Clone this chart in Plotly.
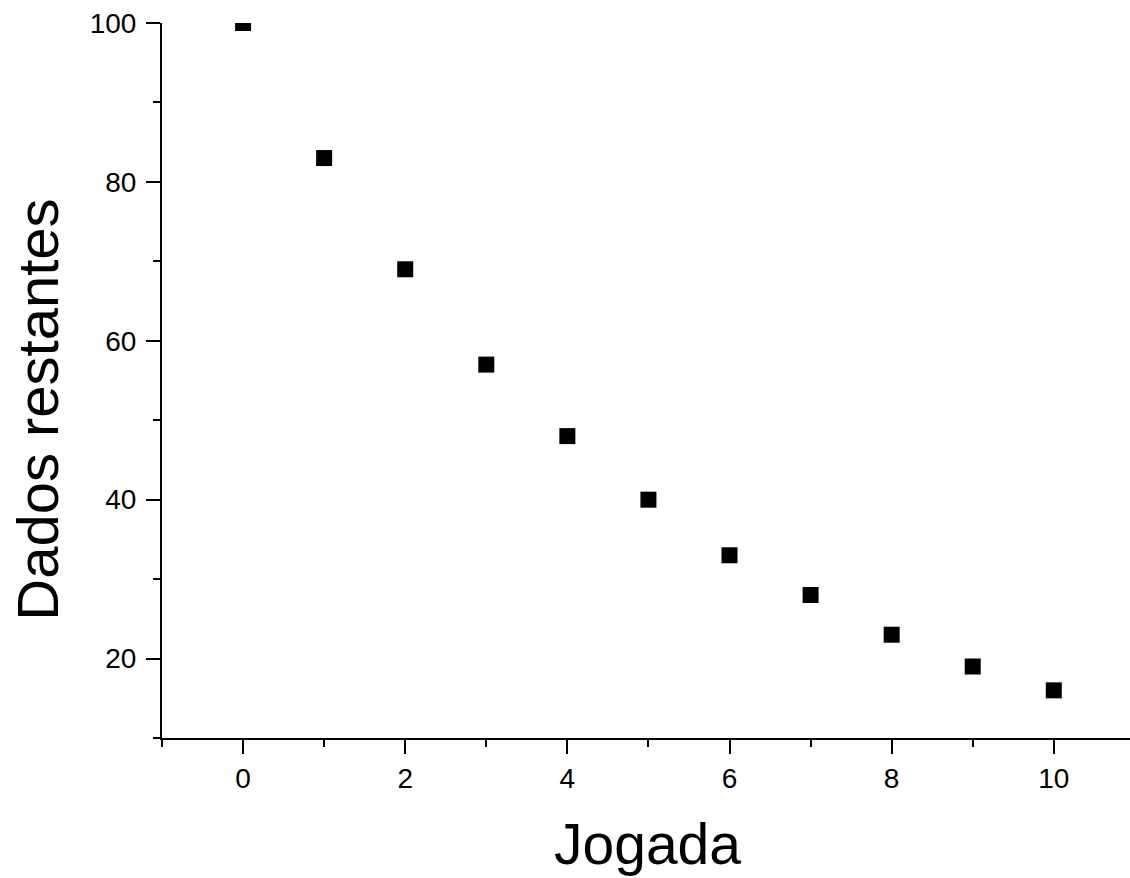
import plotly.graph_objects as go

jogada = [0, 1, 2, 3, 4, 5, 6, 7, 8, 9, 10]
dados_restantes = [100, 83, 69, 57, 48, 40, 33, 28, 23, 19, 16]
x_title = "Jogada"
y_title = "Dados restantes"

W, H = 1130, 878
L, T = 162, 23
B = H - 738.5
R = 0
pw = W - L - R
ph = H - T - B

fig = go.Figure()
fig.add_trace(go.Scatter(
    x=jogada, y=dados_restantes, mode="markers",
    marker=dict(symbol="square", size=16, color="black", line=dict(width=0)),
    cliponaxis=True, showlegend=False,
))

font = "Liberation Sans, Arial, sans-serif"
axis_common = dict(
    showline=True, linecolor="black", linewidth=2,
    ticks="outside", ticklen=14, tickwidth=2, tickcolor="black",
    showgrid=False, zeroline=False, ticklabeloverflow="allow",
    tickfont=dict(family=font, size=28, color="black"),
)
fig.update_xaxes(range=[-1, -1 + 11.94], tick0=0, dtick=2,
                 minor=dict(ticks="outside", ticklen=7, tickwidth=2, tickcolor="black", dtick=1, tick0=0),
                 ticklabelstandoff=0, **axis_common)
fig.update_yaxes(range=[10, 100], tick0=0, dtick=20,
                 minor=dict(ticks="outside", ticklen=7, tickwidth=2, tickcolor="black", dtick=10, tick0=0),
                 ticklabelstandoff=4, **axis_common)

fig.add_annotation(text=x_title, xref="paper", yref="paper",
                   x=(647 - L) / pw, y=(738.5 - 845) / ph, xanchor="center", yanchor="middle",
                   showarrow=False, font=dict(family=font, size=57, color="black"))
fig.add_annotation(text=y_title, xref="paper", yref="paper", textangle=-90,
                   x=(38 - L) / pw, y=(738.5 - 410) / ph, xanchor="center", yanchor="middle",
                   showarrow=False, font=dict(family=font, size=58, color="black"))

fig.update_layout(
    width=W, height=H,
    margin=dict(l=L, r=R, t=T, b=B, pad=0),
    paper_bgcolor="white", plot_bgcolor="white",
)
fig.write_html("out.html", config={"displayModeBar": False},
               post_script="document.body.style.margin='0';document.body.style.overflow='hidden';")
